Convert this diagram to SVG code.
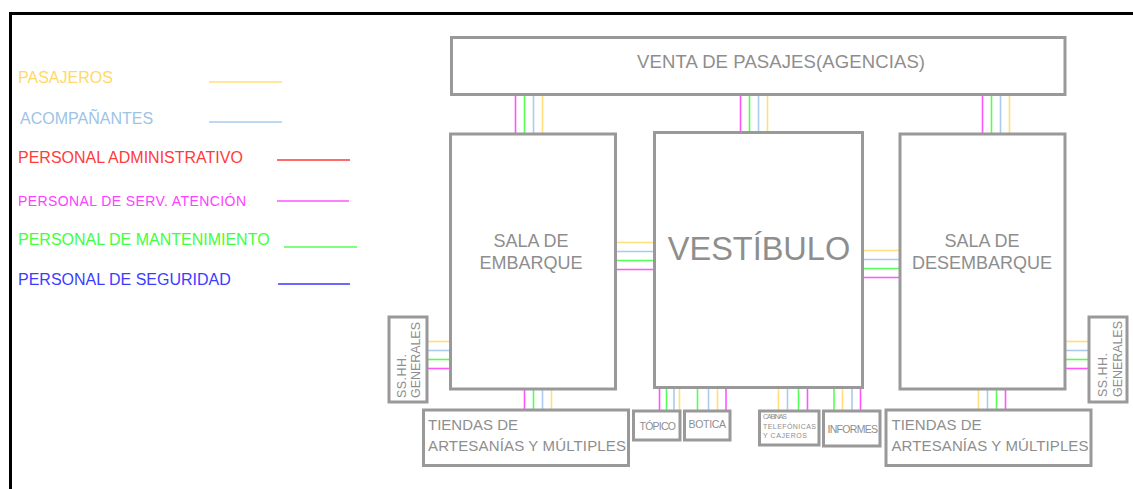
<svg xmlns="http://www.w3.org/2000/svg" width="1133" height="489" viewBox="0 0 1133 489">
<style>
.box{fill:#fff;stroke:#999;stroke-width:3}
.t{font-family:"Liberation Sans",Arial,sans-serif;fill:#8e8e8e}
.lg{font-family:"Liberation Sans",Arial,sans-serif;font-size:16px}
.c line{stroke-width:1.6}
.y{stroke:#ffdf7a}.b{stroke:#a9cbee}.g{stroke:#55ff55}.m{stroke:#ff55ff}
</style>
<rect width="1133" height="489" fill="#fff"/>
<path d="M10.5 489V13.5H1133" fill="none" stroke="#000" stroke-width="3"/>
<g id="legend">
<text class="lg" x="18" y="83" fill="#ffd966">PASAJEROS</text>
<line x1="209" y1="82" x2="282" y2="82" stroke="#ffdf7a" stroke-width="1.6"/>
<text class="lg" x="20" y="124" fill="#9dc3e6">ACOMPAÑANTES</text>
<line x1="209" y1="122" x2="282" y2="122" stroke="#a9cbee" stroke-width="1.6"/>
<text class="lg" x="18" y="163" fill="#ff3b3b">PERSONAL ADMINISTRATIVO</text>
<line x1="277" y1="160" x2="350" y2="160" stroke="#ff6b6b" stroke-width="1.8"/>
<text class="lg" x="18" y="206" fill="#ff40ff" style="font-size:14px" textLength="228">PERSONAL DE SERV. ATENCIÓN</text>
<line x1="277" y1="201" x2="349" y2="201" stroke="#ff55ff" stroke-width="1.6"/>
<text class="lg" x="18" y="245" fill="#40ff40">PERSONAL DE MANTENIMIENTO</text>
<line x1="284" y1="247" x2="357" y2="247" stroke="#55ff55" stroke-width="1.6"/>
<text class="lg" x="18" y="285" fill="#3c3cff">PERSONAL DE SEGURIDAD</text>
<line x1="278" y1="284" x2="350" y2="284" stroke="#6a6aff" stroke-width="1.8"/>
</g>
<g id="connectors" class="c">
<line class="m" x1="515.5" y1="95" x2="515.5" y2="134"/><line class="g" x1="524.5" y1="95" x2="524.5" y2="134"/><line class="b" x1="533.5" y1="95" x2="533.5" y2="134"/><line class="y" x1="542.5" y1="95" x2="542.5" y2="134"/>
<line class="m" x1="740.5" y1="95" x2="740.5" y2="133"/><line class="g" x1="749.5" y1="95" x2="749.5" y2="133"/><line class="b" x1="758.5" y1="95" x2="758.5" y2="133"/><line class="y" x1="767.5" y1="95" x2="767.5" y2="133"/>
<line class="m" x1="982.5" y1="95" x2="982.5" y2="134"/><line class="g" x1="991.5" y1="95" x2="991.5" y2="134"/><line class="b" x1="1000.5" y1="95" x2="1000.5" y2="134"/><line class="y" x1="1009.5" y1="95" x2="1009.5" y2="134"/>
<line class="y" x1="616" y1="242.5" x2="654" y2="242.5"/><line class="b" x1="616" y1="251.5" x2="654" y2="251.5"/><line class="g" x1="616" y1="260.5" x2="654" y2="260.5"/><line class="m" x1="616" y1="269.5" x2="654" y2="269.5"/>
<line class="y" x1="863" y1="250.5" x2="900" y2="250.5"/><line class="b" x1="863" y1="259.5" x2="900" y2="259.5"/><line class="g" x1="863" y1="268.5" x2="900" y2="268.5"/><line class="m" x1="863" y1="277.5" x2="900" y2="277.5"/>
<line class="y" x1="427" y1="341.5" x2="450" y2="341.5"/><line class="b" x1="427" y1="350.5" x2="450" y2="350.5"/><line class="g" x1="427" y1="359.5" x2="450" y2="359.5"/><line class="m" x1="427" y1="368.5" x2="450" y2="368.5"/>
<line class="y" x1="1065" y1="341.5" x2="1089" y2="341.5"/><line class="b" x1="1065" y1="350.5" x2="1089" y2="350.5"/><line class="g" x1="1065" y1="359.5" x2="1089" y2="359.5"/><line class="m" x1="1065" y1="368.5" x2="1089" y2="368.5"/>
<line class="m" x1="524.5" y1="389" x2="524.5" y2="410"/><line class="g" x1="533.5" y1="389" x2="533.5" y2="410"/><line class="b" x1="542.5" y1="389" x2="542.5" y2="410"/><line class="y" x1="551.5" y1="389" x2="551.5" y2="410"/>
<line class="m" x1="659.5" y1="388" x2="659.5" y2="411"/><line class="g" x1="666.5" y1="388" x2="666.5" y2="411"/><line class="b" x1="674" y1="388" x2="674" y2="411"/><line class="y" x1="679.5" y1="388" x2="679.5" y2="411"/>
<line class="g" x1="697.5" y1="388" x2="697.5" y2="411"/><line class="b" x1="708.5" y1="388" x2="708.5" y2="411"/><line class="y" x1="717.5" y1="388" x2="717.5" y2="411"/><line class="m" x1="726" y1="388" x2="726" y2="411"/>
<line class="y" x1="778.5" y1="388" x2="778.5" y2="411"/><line class="b" x1="787.5" y1="388" x2="787.5" y2="411"/><line class="g" x1="798.5" y1="388" x2="798.5" y2="411"/><line class="m" x1="807.5" y1="388" x2="807.5" y2="411"/>
<line class="g" x1="834" y1="388" x2="834" y2="411"/><line class="y" x1="842.5" y1="388" x2="842.5" y2="411"/><line class="b" x1="852" y1="388" x2="852" y2="411"/><line class="m" x1="860.5" y1="388" x2="860.5" y2="411"/>
<line class="y" x1="978.5" y1="389" x2="978.5" y2="410"/><line class="b" x1="987.5" y1="389" x2="987.5" y2="410"/><line class="g" x1="996.5" y1="389" x2="996.5" y2="410"/><line class="m" x1="1005.5" y1="389" x2="1005.5" y2="410"/>
</g>
<g id="venta"><rect class="box" x="451.5" y="37.5" width="613.5" height="57"/><text class="t" x="637" y="68" font-size="18.5" textLength="288">VENTA DE PASAJES(AGENCIAS)</text></g>
<g id="embarque"><rect class="box" x="450.5" y="134" width="165" height="255"/><text class="t" font-size="18" text-anchor="middle"><tspan x="531" y="247">SALA DE</tspan><tspan x="531" y="269">EMBARQUE</tspan></text></g>
<g id="vestibulo"><rect class="box" x="654.5" y="132.5" width="208" height="255"/><text class="t" x="759" y="260" font-size="32.5" text-anchor="middle">VESTÍBULO</text></g>
<g id="desembarque"><rect class="box" x="900" y="134" width="165" height="255"/><text class="t" font-size="18" text-anchor="middle"><tspan x="982" y="247">SALA DE</tspan><tspan x="982" y="269">DESEMBARQUE</tspan></text></g>
<g id="sshh-izq"><rect class="box" x="389" y="317" width="38" height="85"/><text class="t" font-size="12.5" transform="translate(405.5 398) rotate(-90)" textLength="44">SS.HH.</text><text class="t" font-size="12.5" transform="translate(420 398) rotate(-90)" textLength="76">GENERALES</text></g>
<g id="sshh-der"><rect class="box" x="1089" y="317" width="38" height="85"/><text class="t" font-size="12.5" transform="translate(1107 397) rotate(-90)" textLength="44">SS.HH.</text><text class="t" font-size="12.5" transform="translate(1121.5 397) rotate(-90)" textLength="76">GENERALES</text></g>
<g id="tiendas-izq"><rect class="box" x="423.5" y="410" width="205" height="55.5"/><text class="t" font-size="15"><tspan x="428" y="430">TIENDAS DE</tspan><tspan x="428" y="451" textLength="198">ARTESANÍAS Y MÚLTIPLES</tspan></text></g>
<g id="topico"><rect class="box" x="633.5" y="411" width="46.5" height="29"/><text class="t" x="639.5" y="430" font-size="10.5" textLength="36.5">TÓPICO</text></g>
<g id="botica"><rect class="box" x="684.5" y="411" width="45.5" height="29"/><text class="t" x="688.5" y="427.5" font-size="10.5" textLength="37.5">BOTICA</text></g>
<g id="cabinas"><rect class="box" x="759.5" y="411" width="59.5" height="34"/><text class="t" font-size="7"><tspan x="763" y="419" textLength="24">CABINAS</tspan><tspan x="763" y="429.3" textLength="53">TELEFÓNICAS</tspan><tspan x="763" y="438.3" textLength="44">Y CAJEROS</tspan></text></g>
<g id="informes"><rect class="box" x="823.5" y="411" width="56.5" height="35"/><text class="t" x="827.5" y="432.5" font-size="10.5" textLength="50.5">INFORMES</text></g>
<g id="tiendas-der"><rect class="box" x="886" y="410" width="205" height="55.5"/><text class="t" font-size="15"><tspan x="891.5" y="430">TIENDAS DE</tspan><tspan x="891.5" y="451" textLength="197">ARTESANÍAS Y MÚLTIPLES</tspan></text></g>
</svg>
